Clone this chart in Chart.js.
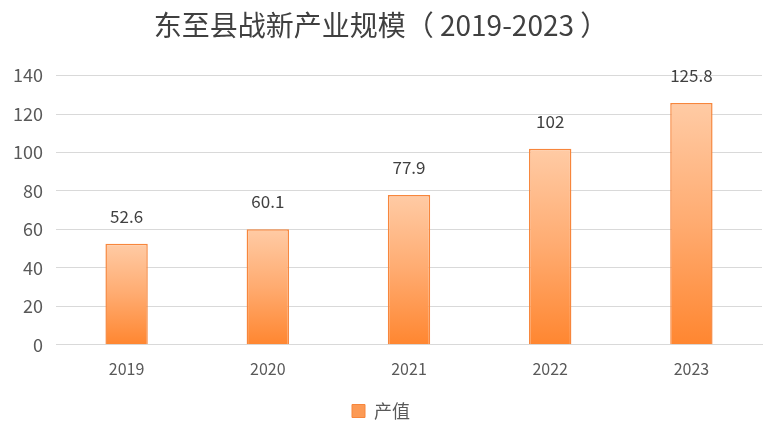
<!DOCTYPE html>
<html>
<head>
<meta charset="utf-8">
<script src="https://cdn.jsdelivr.net/npm/chart.js@4"></script>
<style>
  html, body { margin: 0; padding: 0; background: #fff; }
  #wrap { width: 781px; height: 434px; }
</style>
</head>
<body>
<div id="wrap"><canvas id="scaleChart"></canvas></div>
<script>
// 东至县战新产业规模
const years = ['2019', '2020', '2021', '2022', '2023'];
const outputValues = [52.6, 60.1, 77.9, 102, 125.8];
const yTicks = [0, 20, 40, 60, 80, 100, 120, 140];

const fontFamily = '"Microsoft YaHei", "Noto Sans CJK SC", "DejaVu Sans", sans-serif';
const textColor = '#595959';

// each bar gets its own light-to-dark gradient
function barGradient(context) {
  const chart = context.chart;
  const area = chart.chartArea;
  if (!area || context.type !== 'data') return '#fb8c3c';
  const yScale = chart.scales.y;
  const top = yScale.getPixelForValue(outputValues[context.dataIndex]);
  const bottom = yScale.getPixelForValue(0);
  const g = chart.ctx.createLinearGradient(0, top, 0, bottom);
  g.addColorStop(0, '#ffcba5');
  g.addColorStop(0.5, '#ffab70');
  g.addColorStop(1, '#ff8630');
  return g;
}

// simple value labels above bars
const valueLabels = {
  id: 'valueLabels',
  afterDatasetsDraw(chart) {
    const ctx = chart.ctx;
    const meta = chart.getDatasetMeta(0);
    ctx.save();
    ctx.font = '17px ' + fontFamily;
    ctx.fillStyle = '#404040';
    ctx.textAlign = 'center';
    ctx.textBaseline = 'bottom';
    meta.data.forEach((bar, i) => {
      ctx.fillText(String(outputValues[i]), bar.x, bar.y - 19);
    });
    ctx.restore();
  }
};

const scaleChart = new Chart(document.getElementById('scaleChart'), {
  type: 'bar',
  data: {
    labels: years,
    datasets: [{
      label: '产值',
      data: outputValues,
      backgroundColor: barGradient,
      borderColor: '#f7863c',
      borderWidth: 1.5,
      barPercentage: 0.6,
      categoryPercentage: 0.5
    }]
  },
  options: {
    responsive: true,
    maintainAspectRatio: false,
    animation: false,
    layout: { padding: { left: 0, right: 19, top: 0, bottom: 4 } },
    plugins: {
      title: {
        display: true,
        text: '东至县战新产业规模（ 2019-2023 ）',
        color: '#404040',
        font: { family: fontFamily, size: 28, weight: 'normal' },
        padding: { top: 9, bottom: 33 }
      },
      legend: {
        display: true,
        position: 'bottom',
        labels: {
          color: textColor,
          font: { family: fontFamily, size: 18 },
          boxWidth: 13,
          boxHeight: 13,
          padding: 16,
          generateLabels(chart) {
            return [{
              text: '产值',
              fillStyle: '#fc9a55',
              strokeStyle: '#f7863c',
              lineWidth: 1,
              fontColor: textColor,
              datasetIndex: 0
            }];
          }
        }
      },
      tooltip: { enabled: false }
    },
    scales: {
      x: {
        grid: { display: false },
        border: { color: '#d9d9d9' },
        ticks: { color: textColor, font: { family: fontFamily, size: 16 }, padding: 7 }
      },
      y: {
        min: 0,
        max: 140,
        afterFit(scale) { scale.width = 56; },
        afterBuildTicks(scale) { scale.ticks = yTicks.map(v => ({ value: v })); },
        grid: { color: '#d9d9d9', lineWidth: 1, drawTicks: false },
        border: { display: false },
        ticks: { color: textColor, font: { family: fontFamily, size: 18 }, padding: 13 }
      }
    }
  },
  plugins: [valueLabels]
});
</script>
</body>
</html>
